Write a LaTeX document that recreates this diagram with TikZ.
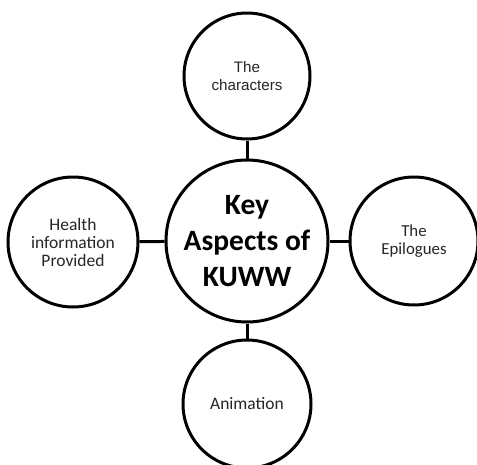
\documentclass[tikz,border=0pt]{standalone}
\usepackage{fontspec}
\setmainfont{Carlito}
\newfontfamily\arialfont{Liberation Sans}
\begin{document}
\begin{tikzpicture}[x=1pt,y=-1pt,
  bubble/.style={circle, draw=black, line width=3pt, fill=white, inner sep=0pt, align=center},
  link/.style={draw=black, line width=3pt}]
\useasboundingbox (0,0) rectangle (477,464);
\node[bubble, minimum size=162pt, font=\fontsize{29.5}{36}\selectfont\bfseries] (key) at (247,241) {Key\\Aspects of\\KUWW};
\node[bubble, minimum size=126pt, text=black!85, font=\arialfont\fontsize{15.2}{18}\selectfont] (chars) at (247,76) {The\\characters};
\node[bubble, minimum size=130pt, text=black!85, font=\fontsize{17.5}{18}\selectfont] (health) at (73,242) {Health\\information\\Provided};
\node[bubble, minimum size=128pt, text=black!85, font=\fontsize{16.8}{18.5}\selectfont] (epi) at (414,241) {The\\Epilogues};
\node[bubble, minimum size=128pt, text=black!85, font=\fontsize{17.5}{19}\selectfont] (anim) at (247,404) {Animation};
\draw[link] (chars) -- (key);
\draw[link] (health) -- (key);
\draw[link] (key) -- (epi);
\draw[link] (key) -- (anim);
\end{tikzpicture}
\end{document}
